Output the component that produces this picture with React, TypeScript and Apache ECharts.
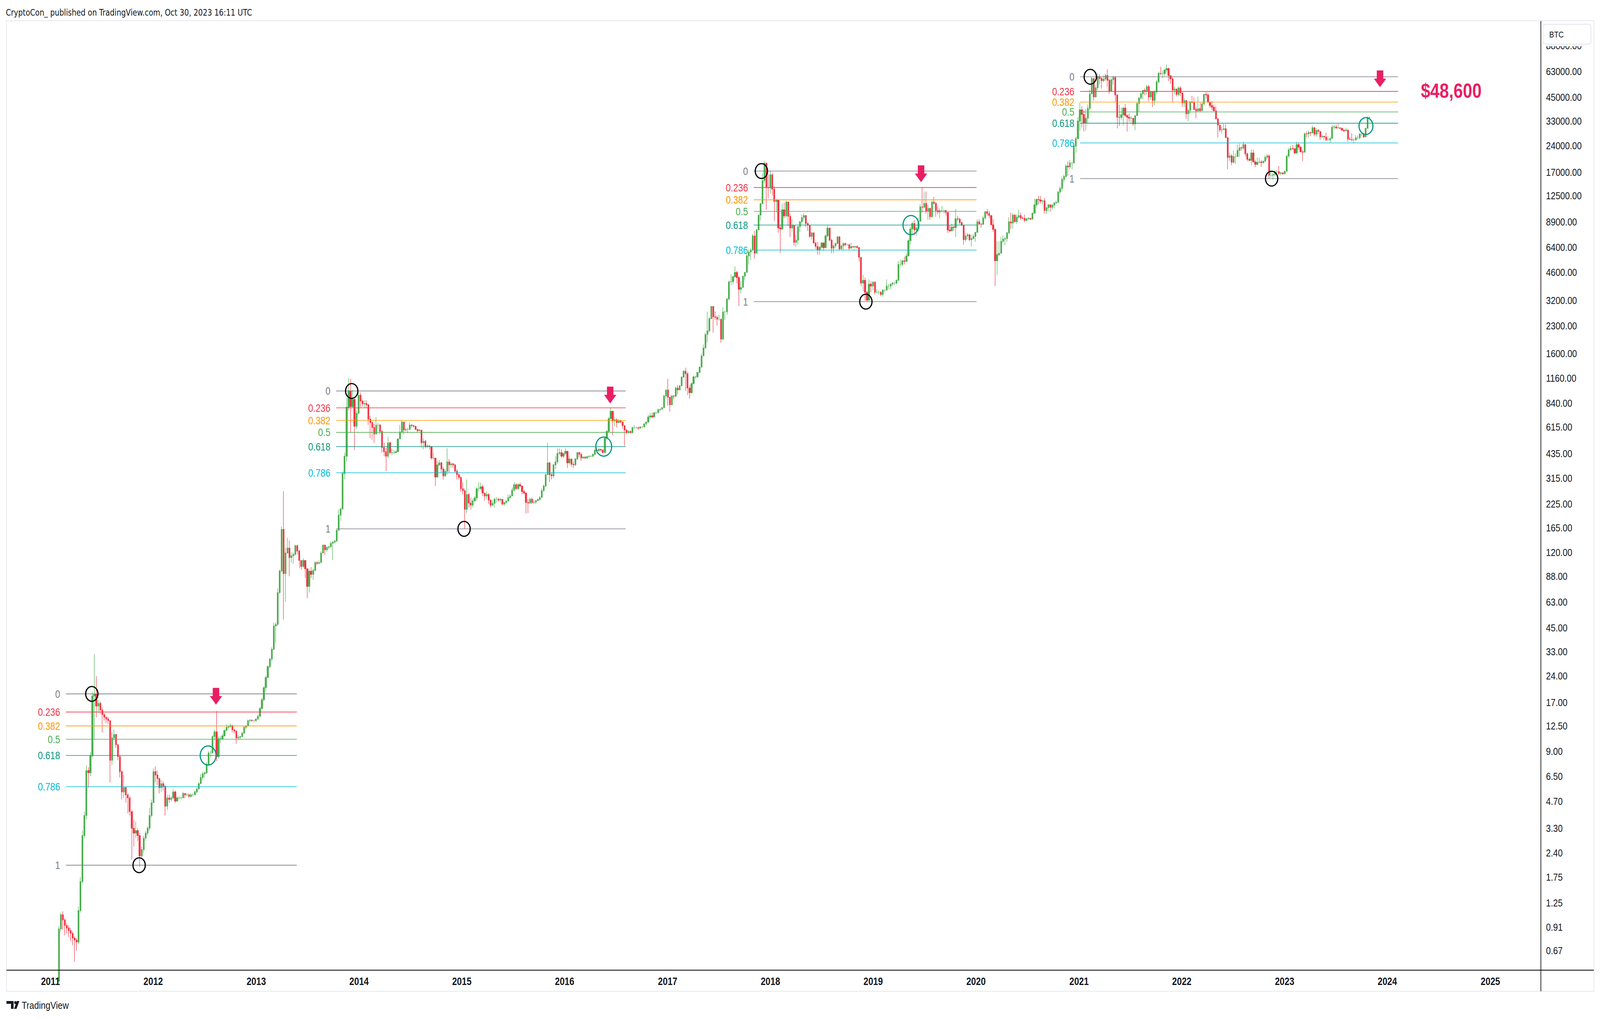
import React, { useEffect, useRef } from 'react';
import * as echarts from 'echarts';

// ---------- weekly candles: [close, high, low] (open = previous close) ----------
const weekStarts = ['2011-01-03', '2012-01-02', '2013-01-07', '2014-01-06', '2015-01-05', '2016-01-04', '2017-01-02', '2018-01-01', '2019-01-07', '2020-01-06', '2021-01-04', '2022-01-03', '2023-01-02'];
const firstOpen = 0.3;

const w2011 = [
  [0.32, 0.33, 0.29], [0.40, 0.42, 0.31], [0.42, 0.44, 0.38], [0.45, 0.47, 0.40], [0.89, 0.92, 0.44],
  [1.07, 1.10, 0.86], [1.00, 1.12, 0.88], [0.93, 1.02, 0.82], [0.90, 0.96, 0.84],
  [0.87, 0.93, 0.80], [0.84, 0.90, 0.76], [0.79, 0.86, 0.72], [0.77, 0.81, 0.58],
  [0.75, 0.79, 0.67], [1.13, 1.19, 0.73], [1.65, 1.75, 1.10], [3.0, 3.2, 1.6],
  [3.9, 4.1, 2.9], [7.0, 7.5, 3.7], [6.8, 7.3, 5.6], [8.5, 8.9, 6.5], [18.5, 19.5, 8.3],
  [19.0, 31.9, 10.5], [16.2, 23.9, 14.0], [16.8, 17.6, 14.8], [15.4, 17.2, 14.6],
  [14.5, 15.9, 11.5], [14.0, 14.7, 13.4], [13.7, 14.2, 13.0], [13.4, 14.1, 12.8],
  [8.0, 13.5, 6.0], [10.7, 11.5, 7.5], [11.2, 11.9, 10.4], [9.8, 11.3, 9.4], [8.4, 9.9, 8.0],
  [6.9, 8.6, 6.4], [5.3, 7.0, 4.8], [5.6, 6.6, 4.9], [5.1, 5.7, 4.6],
  [4.9, 5.2, 4.0], [4.1, 5.0, 3.9], [3.3, 4.2, 2.2], [3.1, 3.7, 2.6], [3.2, 3.6, 2.9],
  [3.0, 3.3, 2.8], [2.3, 3.1, 2.0], [2.5, 2.6, 2.2], [2.9, 3.0, 2.4],
  [3.1, 3.2, 2.8], [3.3, 3.4, 3.0], [3.9, 4.3, 3.2], [4.6, 4.8, 3.8],
];
const w2012 = [
  [6.9, 7.2, 4.9], [6.6, 7.4, 6.0], [6.3, 7.0, 5.8], [5.6, 6.4, 5.2], [5.9, 6.2, 5.3],
  [5.7, 6.1, 5.4], [4.4, 5.8, 3.9], [4.9, 5.1, 4.2], [4.8, 5.1, 4.6],
  [4.9, 5.0, 4.7], [5.3, 5.5, 4.8], [4.7, 5.4, 4.6], [4.9, 5.0, 4.7],
  [4.9, 5.0, 4.8], [4.9, 5.0, 4.8], [5.2, 5.3, 4.9], [5.1, 5.2, 4.9], [5.1, 5.2, 5.0],
  [5.0, 5.2, 4.9], [5.1, 5.2, 4.9], [5.1, 5.2, 5.0], [5.3, 5.4, 5.1],
  [5.5, 5.6, 5.2], [5.9, 6.0, 5.5], [6.4, 6.7, 5.9], [6.7, 6.9, 6.2],
  [6.8, 6.9, 6.4], [7.6, 7.8, 6.7], [8.8, 9.0, 7.5], [8.8, 9.1, 8.3], [10.9, 11.1, 8.8],
  [11.6, 11.9, 10.5], [8.4, 15.2, 7.9], [10.6, 10.9, 8.2], [10.6, 11.0, 10.0],
  [11.0, 11.3, 10.4], [11.8, 12.0, 10.9], [12.3, 12.8, 11.7], [12.4, 12.6, 12.0],
  [12.6, 12.9, 12.2], [11.9, 12.6, 11.5], [11.7, 12.0, 11.3], [10.7, 11.8, 9.9], [10.8, 11.1, 10.4],
  [10.9, 11.0, 10.5], [11.4, 11.6, 10.8], [12.3, 12.5, 11.3], [12.5, 12.6, 12.0],
  [13.4, 13.6, 12.4], [13.5, 13.7, 13.1], [13.4, 13.6, 13.2], [13.4, 13.6, 13.1], [13.7, 13.8, 13.2],
];
const w2013 = [
  [14.2, 14.5, 13.5], [15.7, 16.0, 14.1], [17.6, 18.0, 15.6], [20.6, 21.0, 17.3],
  [23.5, 24.0, 19.7], [27.1, 27.6, 23.5], [29.9, 30.4, 26.5], [34.0, 34.9, 29.0],
  [46, 48, 33.5], [47, 48.4, 37], [71, 75, 46], [94, 96, 70],
  [162, 168, 93], [91, 266, 50], [119, 127, 63], [127, 145, 118], [112, 140, 88],
  [115, 120, 105], [117, 120, 103], [131, 133, 115], [122, 133, 117],
  [108, 124, 98], [100, 108, 96], [108, 111, 98], [97, 107, 86],
  [77, 97, 66], [94, 97, 71], [90, 99, 86], [95, 97, 84], [105, 107, 94],
  [104, 107, 102], [105, 108, 103], [119, 122, 105], [132, 133, 119],
  [124, 133, 116], [128, 130, 121], [129, 131, 125], [135, 138, 128], [137, 139, 109],
  [139, 141, 135], [160, 162, 138], [195, 210, 160], [211, 215, 181],
  [335, 345, 211], [420, 440, 310], [795, 900, 390], [985, 1163, 760],
  [800, 1150, 576], [880, 1000, 790], [620, 890, 455], [735, 760, 600], [930, 960, 730],
];
const w2014 = [
  [860, 960, 790], [830, 880, 800], [835, 870, 790], [820, 870, 790],
  [680, 830, 630], [650, 710, 530], [610, 660, 520], [560, 640, 500],
  [630, 700, 560], [630, 650, 600], [580, 640, 560], [470, 590, 440], [445, 500, 420],
  [420, 470, 345], [500, 540, 410], [440, 510, 430], [440, 460, 425],
  [440, 455, 430], [445, 455, 435], [525, 530, 445], [575, 630, 560],
  [655, 670, 620], [590, 660, 560], [595, 610, 580], [595, 610, 565], [630, 650, 600],
  [625, 635, 610], [620, 630, 610], [595, 625, 590], [585, 600, 575],
  [590, 600, 580], [500, 590, 470], [510, 530, 460], [475, 520, 465],
  [480, 490, 470], [475, 485, 460], [410, 480, 400], [410, 440, 400], [320, 410, 285],
  [375, 395, 318], [385, 400, 370], [355, 390, 340], [325, 365, 310],
  [345, 355, 320], [390, 465, 330], [375, 405, 340], [380, 390, 360],
  [375, 385, 360], [345, 380, 340], [330, 355, 310], [318, 335, 310], [275, 325, 265],
];
const w2015 = [
  [268, 300, 255], [210, 275, 163], [255, 310, 200], [228, 260, 215],
  [222, 245, 210], [235, 242, 215], [244, 250, 230], [275, 280, 235],
  [275, 300, 265], [282, 298, 270], [260, 290, 250], [250, 260, 235], [255, 265, 240],
  [237, 260, 225], [222, 240, 215], [227, 238, 218], [240, 245, 215],
  [240, 247, 230], [237, 245, 232], [240, 243, 230], [225, 240, 222],
  [230, 232, 220], [234, 238, 225], [245, 255, 235], [250, 256, 240], [270, 280, 250],
  [290, 300, 265], [275, 295, 270], [290, 295, 270], [285, 298, 280],
  [265, 285, 255], [260, 270, 255], [230, 262, 199], [228, 240, 200], [240, 245, 225],
  [230, 245, 225], [231, 238, 225], [235, 238, 225], [239, 242, 234],
  [245, 250, 235], [268, 275, 245], [285, 290, 265], [330, 335, 280],
  [385, 500, 330], [330, 390, 300], [325, 340, 310], [375, 380, 315], [390, 420, 355],
  [435, 465, 380], [440, 465, 425], [420, 460, 410], [435, 440, 410],
];
const w2016 = [
  [448, 465, 425], [385, 450, 360], [405, 420, 375], [378, 400, 365],
  [375, 390, 360], [405, 410, 370], [440, 445, 400], [430, 445, 415], [410, 440, 395],
  [415, 420, 405], [410, 420, 405], [418, 422, 405], [420, 425, 410],
  [420, 425, 415], [430, 435, 415], [455, 460, 425], [450, 470, 440],
  [460, 465, 445], [455, 460, 445], [440, 460, 435], [530, 535, 440], [580, 590, 520],
  [685, 700, 575], [755, 790, 680], [665, 730, 550], [675, 700, 620],
  [650, 690, 610], [665, 680, 645], [655, 675, 645], [625, 660, 600],
  [590, 630, 480], [570, 600, 560], [580, 590, 565], [570, 585, 565], [610, 615, 565],
  [610, 630, 600], [610, 615, 600], [605, 610, 590], [615, 620, 600],
  [615, 620, 605], [640, 645, 610], [655, 660, 625], [700, 720, 650], [710, 740, 680],
  [700, 740, 690], [740, 750, 695], [740, 750, 725], [770, 780, 735],
  [775, 780, 755], [790, 800, 770], [920, 935, 790], [995, 1000, 890],
];
const w2017 = [
  [905, 1150, 810], [820, 910, 750], [920, 930, 820], [915, 930, 880], [1020, 1040, 910],
  [995, 1060, 940], [1050, 1065, 995], [1175, 1190, 1045], [1270, 1290, 1170],
  [1230, 1330, 980], [1020, 1260, 930], [960, 1060, 890], [1080, 1100, 950],
  [1180, 1200, 1070], [1180, 1200, 1150], [1250, 1260, 1170], [1340, 1350, 1240],
  [1550, 1600, 1330], [1720, 1800, 1560], [2050, 2100, 1700], [2150, 2760, 1850], [2520, 2580, 2100],
  [2950, 2980, 2500], [2580, 2980, 2100], [2560, 2770, 2480], [2500, 2630, 2300],
  [2500, 2650, 2450], [1930, 2530, 1840], [2750, 2920, 1900], [2750, 2800, 2480], [3250, 3300, 2650],
  [4070, 4150, 3200], [4080, 4480, 3900], [4350, 4400, 3950], [4600, 4980, 4300],
  [4300, 4700, 4000], [3690, 4400, 2970], [3780, 4100, 3500], [4380, 4400, 3800],
  [4600, 4620, 4150], [5700, 5850, 4600], [6000, 6200, 5100], [6150, 6300, 5400], [7400, 7600, 6100],
  [5900, 7900, 5500], [8000, 8100, 5900], [9700, 9750, 8000], [11250, 11400, 9000],
  [15200, 16700, 11200], [19100, 19666, 14800], [13900, 19200, 10400], [13850, 16500, 12100],
];
const w2018 = [
  [16400, 17250, 12800], [13600, 16800, 12500], [11600, 14100, 9000], [11800, 12000, 10000], [8200, 11700, 7700],
  [8100, 8600, 5940], [10400, 11200, 8000], [9600, 11400, 9300], [11500, 11700, 9400],
  [9550, 11600, 8400], [8200, 9900, 7300], [8500, 9200, 7800], [6800, 8500, 6500],
  [7000, 7500, 6400], [8350, 8450, 6600], [8900, 9000, 7800], [9400, 9750, 8600], [9650, 9950, 9000],
  [8700, 9700, 8300], [8500, 8900, 7900], [7350, 8500, 7200], [7700, 7800, 7050],
  [6750, 7750, 6700], [6450, 6800, 6250], [6150, 6850, 5800], [6380, 6520, 5780],
  [6750, 6850, 6300], [6350, 6800, 6100], [7400, 7550, 6300], [8200, 8500, 7300], [7000, 8200, 6900],
  [6300, 7150, 5900], [6500, 6600, 5900], [6700, 6800, 6300], [7300, 7400, 6700],
  [6250, 7400, 6100], [6500, 6600, 6200], [6700, 6800, 6100], [6600, 6800, 6450],
  [6600, 6700, 6500], [6300, 6700, 6150], [6450, 6750, 6300], [6400, 6450, 6350], [6450, 6500, 6250],
  [6350, 6550, 6300], [5600, 6400, 5300], [4000, 5600, 3850], [4150, 4450, 3600],
  [3550, 4300, 3200], [3200, 3600, 3122], [3950, 4200, 3200], [3850, 4100, 3550], [4050, 4100, 3650],
];
const w2019 = [
  [3550, 4100, 3450], [3550, 3700, 3500], [3550, 3650, 3450], [3450, 3600, 3380],
  [3650, 3700, 3350], [3650, 3700, 3550], [3850, 4200, 3650], [3850, 3950, 3700],
  [3950, 3970, 3700], [4000, 4050, 3850], [4000, 4100, 3900], [4150, 4200, 3950],
  [5100, 5350, 4100], [5100, 5450, 4950], [5350, 5450, 5000], [5300, 5650, 5100], [5700, 5900, 5350],
  [6950, 7100, 5700], [8100, 8350, 6600], [8700, 8900, 7500], [8000, 9100, 7450],
  [8200, 8300, 7400], [8950, 9400, 7800], [10800, 11200, 8900], [10750, 13880, 10000],
  [11300, 13100, 10600], [10200, 13200, 9900], [10600, 11100, 9100], [9500, 10650, 9150], [11500, 11700, 9400],
  [11300, 12300, 11100], [10300, 11500, 9500], [10100, 10900, 9800], [10300, 10600, 9300],
  [10300, 10950, 10100], [10300, 10400, 9900], [10050, 10400, 9650], [7990, 10000, 7700], [7900, 8500, 7750],
  [8300, 8700, 7950], [8250, 8400, 7900], [9250, 10500, 7300], [9200, 9600, 8950],
  [8800, 9400, 8600], [8500, 8900, 8400], [7050, 8550, 6600], [7400, 7700, 6850],
  [7500, 7700, 7100], [7050, 7600, 6900], [7150, 7500, 6450], [7350, 7600, 7050], [7750, 7800, 6850],
];
const w2020 = [
  [8900, 9200, 7700], [8650, 9200, 8500], [8600, 8700, 8250], [9350, 9600, 8550],
  [10150, 10200, 9150], [9900, 10500, 9600], [9650, 10250, 9300], [8550, 9700, 8500],
  [8050, 9200, 7800], [5350, 8150, 3850], [5800, 6900, 4450], [5900, 6900, 5700], [6900, 7300, 6150],
  [7100, 7450, 6750], [7150, 7300, 6550], [7700, 7800, 6850], [8900, 9450, 7600],
  [8750, 10000, 8100], [9700, 9950, 8150], [8900, 9850, 8800], [9450, 9750, 8650],
  [9650, 10400, 9300], [9350, 10000, 9100], [9300, 9550, 9200], [9050, 9750, 8850], [9250, 9350, 8900],
  [9300, 9450, 9100], [9200, 9350, 9100], [9950, 10050, 9200], [11100, 12000, 9900],
  [11900, 12000, 10700], [11850, 12450, 11150], [11650, 12450, 11300], [11700, 11800, 11150], [10300, 12100, 9900],
  [10700, 10800, 9850], [11100, 11200, 10200], [10750, 10950, 10150], [11050, 11200, 10400],
  [11350, 11500, 10550], [11450, 11750, 11200], [13100, 13350, 11400], [13750, 14100, 12800],
  [15450, 15950, 13250], [16050, 16450, 14850], [18400, 18800, 15800], [18150, 19500, 16200], [19150, 19900, 17600],
  [19150, 19400, 17600], [23800, 24300, 19000], [26250, 26900, 21900], [33000, 34800, 26100],
];
const w2021 = [
  [38200, 41950, 29000], [36000, 40100, 30400], [32250, 37850, 28800], [34250, 38650, 29200],
  [39000, 40950, 32300], [47100, 49700, 37900], [57500, 58350, 46900], [45200, 57500, 43000],
  [50950, 52650, 44950], [59000, 61800, 49300], [57500, 60600, 53300], [55800, 58400, 50400], [57100, 60200, 54900],
  [59800, 61200, 55500], [56200, 64850, 51500], [49000, 57400, 47000], [56600, 58000, 48800],
  [58200, 59600, 53100], [46400, 59500, 42200], [34700, 46700, 30000], [34600, 40800, 31000], [35800, 39500, 33400],
  [39100, 39700, 31100], [35500, 41300, 34800], [34700, 36000, 28800], [34200, 36500, 32700],
  [34250, 35100, 32100], [31800, 34100, 31000], [35400, 35700, 29300], [41500, 42300, 35300],
  [44600, 45300, 37300], [47100, 48100, 43800], [49300, 49600, 43900], [48800, 50500, 46300], [51750, 52900, 46500],
  [45150, 52900, 42800], [48300, 48900, 43400], [43200, 45100, 39600], [48200, 49200, 40700],
  [55000, 56600, 46800], [61550, 62900, 54000], [61300, 67000, 59900], [61300, 63600, 57800],
  [64300, 64400, 59400], [65500, 69000, 62300], [59700, 66300, 55600], [57300, 59300, 53500], [49400, 59100, 42000],
  [50100, 51900, 46800], [46700, 49500, 45500], [50800, 51900, 45600], [47700, 52100, 45700],
];
const w2022 = [
  [41800, 47500, 39700], [43100, 44400, 39600], [36300, 43500, 34000], [37900, 38900, 32900], [42400, 43000, 36300],
  [42100, 45900, 41700], [38400, 44700, 38000], [37700, 39600, 34300], [38800, 45400, 37200],
  [37800, 42000, 37100], [41300, 42300, 37600], [46800, 47000, 40500], [46400, 48200, 44400],
  [42200, 47200, 41900], [40400, 42400, 39200], [39500, 42900, 38200], [37700, 40800, 37600],
  [34000, 40000, 33700], [31300, 34200, 26700], [29400, 31400, 28600], [29500, 30700, 28000], [29900, 31900, 29300],
  [26600, 31600, 26500], [20550, 26900, 17600], [21000, 21900, 19600], [19300, 21500, 18600],
  [20800, 22500, 19000], [20800, 21600, 18900], [22550, 24300, 20800], [23300, 24600, 20700],
  [23200, 23700, 22400], [24300, 25200, 22700], [21550, 24400, 20800], [20050, 21900, 19550], [19800, 20500, 19600],
  [21800, 22800, 18600], [19400, 22700, 19300], [18800, 19900, 18100], [19300, 20500, 18500],
  [19400, 20500, 19100], [19200, 19900, 18200], [19600, 19700, 18900], [20600, 21100, 19300], [21000, 21500, 20000],
  [16300, 21400, 15600], [16300, 17200, 15800], [16450, 16800, 15480], [17100, 17400, 16000],
  [17100, 17400, 16700], [16700, 18400, 16300], [16840, 17000, 16300], [16600, 16900, 16350],
];
const w2023 = [
  [17150, 17400, 16500], [20900, 21300, 17100], [22700, 23300, 20400], [23100, 23950, 22300], [23000, 24250, 22700],
  [21800, 23200, 21400], [24300, 25250, 21500], [23500, 25000, 22800], [22150, 23900, 21900],
  [22000, 22700, 19600], [28000, 28400, 21900], [27950, 28900, 26700], [28450, 29200, 26600],
  [28300, 28800, 27200], [30300, 31000, 28100], [27800, 30500, 27100], [29250, 30000, 26950],
  [28850, 29800, 27700], [26900, 28900, 25800], [27100, 27600, 26550], [26850, 27200, 25900], [25850, 28400, 25400],
  [25850, 27100, 25350], [26300, 26900, 24800], [30500, 31400, 26250], [30600, 31250, 29550],
  [30250, 31500, 29700], [30250, 31800, 29950], [30100, 30300, 29600], [29300, 30000, 29150], [29050, 29750, 28650],
  [29400, 30250, 29000], [26100, 29450, 25200], [26000, 26800, 25800], [25850, 28100, 25400],
  [25850, 26400, 24900], [26550, 27450, 25600], [26550, 27400, 26050], [27950, 28050, 26050],
  [27950, 28600, 27200], [26850, 28000, 26550], [30000, 30300, 26900], [34500, 35200, 29900], [34600, 34900, 34050],
];
const weeklyByYear = [w2011, w2012, w2013, w2014, w2015, w2016, w2017, w2018, w2019, w2020, w2021, w2022, w2023];

// ---------- axes ----------
const priceTicks = [88000, 63000, 45000, 33000, 24000, 17000, 12500, 8900, 6400, 4600, 3200, 2300, 1600, 1160, 840, 615, 435, 315, 225, 165, 120, 88, 63, 45, 33, 24, 17, 12.5, 9, 6.5, 4.7, 3.3, 2.4, 1.75, 1.25, 0.91, 0.67];
const yearTicks = [2011, 2012, 2013, 2014, 2015, 2016, 2017, 2018, 2019, 2020, 2021, 2022, 2023, 2024, 2025];
const timeMin = '2010-07-30';
const timeMax = '2025-06-28';
const priceMin = 0.52;
const priceMax = 121400;

// ---------- fibonacci retracements ----------
const fibRatios = [0, 0.236, 0.382, 0.5, 0.618, 0.786, 1];
const fibLabels = ['0', '0.236', '0.382', '0.5', '0.618', '0.786', '1'];
const fibColors = ['#787b86', '#f23645', '#ff9800', '#4caf50', '#089981', '#00bcd4', '#787b86'];
const fibStart = ['2011-02-25', '2013-10-12', '2017-11-03', '2021-01-05'];
const fibEnd = ['2013-05-25', '2016-08-05', '2020-01-03', '2024-02-08'];
const fibHigh = [19.0, 982, 17220, 58800];
const fibLow = [2.04, 163, 3143, 15600];

// ---------- annotations ----------
const pivotDates = ['2011-05-28', '2011-11-12', '2013-12-06', '2015-01-09', '2017-11-30', '2018-12-06', '2021-02-10', '2022-11-16'];
const pivotPrices = [19.0, 2.04, 982, 163, 17220, 3143, 58800, 15600];
const retestDates = ['2012-07-14', '2016-05-19', '2019-05-15', '2023-10-17'];
const retestPrices = [8.52, 476, 8520, 30970];
const arrowDates = ['2012-08-11', '2016-06-11', '2019-06-20', '2023-12-06'];
const arrowPrices = [16.5, 835, 14900, 51300];
const targetDate = '2024-04-29';
const targetPrice = 48600;
const targetText = '$48,600';

const headerText = 'CryptoCon_ published on TradingView.com, Oct 30, 2023 16:11 UTC';

const ts = (s: string) => Date.parse(s + 'T00:00:00Z');
const DAY = 86400000;

const UP = '#4caf50';
const DOWN = '#f23645';
const PINK = '#e91e63';
const TEAL = '#089981';
const INK = '#131722';
const SANS = '"Liberation Sans", Arial, sans-serif';

// reference layout size (pixel constants below are in this space, then mapped to the page)
const REF_W = 4950;
const REF_H = 2608;

function buildCandles() {
  const out: number[][] = [];
  let prev = firstOpen;
  weekStarts.forEach((start, yi) => {
    const t0 = ts(start);
    weeklyByYear[yi].forEach((row, i) => {
      const [c, h, l] = row;
      const o = prev;
      out.push([t0 + i * 7 * DAY, o, c, Math.min(l, o, c), Math.max(h, o, c)]);
      prev = c;
    });
  });
  return out;
}

function buildFibRows() {
  const rows: number[][] = [];
  fibHigh.forEach((hi, s) => {
    fibRatios.forEach((r, k) => {
      rows.push([ts(fibStart[s]), ts(fibEnd[s]), hi - r * (hi - fibLow[s]), k]);
    });
  });
  return rows;
}

function textStyle(text: string, fill: string, font: string, align: string, vAlign: string) {
  return { text, fill, font, align, verticalAlign: vAlign, textAlign: align, textVerticalAlign: vAlign };
}

export default function App() {
  const ref = useRef<HTMLDivElement>(null);
  useEffect(() => {
    if (!ref.current) return;
    const el = ref.current;
    const cw = el.clientWidth || REF_W;
    const ch = el.clientHeight || REF_H;
    const sx = cw / REF_W;
    const sy = ch / REF_H;
    const ar = sy / sx; // vertical stretch applied to glyphs so they keep the reference proportions
    const sm = (sx + sy) / 2;
    const X = (v: number) => v * sx;
    const Y = (v: number) => v * sy;
    const F = (v: number) => `${(v * sx).toFixed(2)}px`;

    const chart = echarts.init(el, null, { renderer: 'svg' });
    const candles = buildCandles();
    const fibRows = buildFibRows();
    const xMinTs = ts(timeMin);

    const txt = (x: number, y: number, style: any, z?: number) => ({ type: 'text', x, y, scaleY: ar, z, style });

    const option: any = {
      animation: false,
      backgroundColor: '#ffffff',
      grid: { left: X(21), right: cw - X(4766), top: Y(54), bottom: ch - Y(2483), containLabel: false },
      xAxis: {
        type: 'time', min: ts(timeMin), max: ts(timeMax),
        axisLine: { show: false }, axisTick: { show: false }, axisLabel: { show: false }, splitLine: { show: false },
      },
      yAxis: {
        type: 'log', logBase: 10, min: priceMin, max: priceMax, position: 'right',
        axisLine: { show: false }, axisTick: { show: false }, axisLabel: { show: false }, splitLine: { show: false },
      },
      series: [
        {
          type: 'candlestick',
          data: candles,
          encode: { x: 0, y: [1, 2, 3, 4] },
          barWidth: 4.5 * sx,
          large: false,
          progressive: 0,
          clip: true,
          silent: true,
          z: 2,
          itemStyle: { color: UP, color0: DOWN, borderColor: UP, borderColor0: DOWN, borderWidth: 1.45 * sx },
        },
        {
          type: 'custom', silent: true, clip: false, z: 3,
          encode: { x: [0, 1], y: 2 },
          data: fibRows,
          renderItem: (params: any, api: any) => {
            const p0 = api.coord([api.value(0), api.value(2)]);
            const p1 = api.coord([api.value(1), api.value(2)]);
            const k = api.value(3);
            return {
              type: 'group',
              children: [
                { type: 'line', shape: { x1: p0[0], y1: p0[1], x2: p1[0], y2: p1[1] }, style: { stroke: fibColors[k], lineWidth: 1.6 * sy } },
                txt(p0[0] - 18 * sx, p0[1], textStyle(fibLabels[k], fibColors[k], `${F(27.5)} ${SANS}`, 'right', 'middle')),
              ],
            };
          },
        },
        {
          type: 'custom', silent: true, clip: false, z: 4,
          data: pivotDates.map((d, i) => [ts(d), pivotPrices[i]]),
          renderItem: (params: any, api: any) => {
            const p = api.coord([api.value(0), api.value(1)]);
            return { type: 'ellipse', shape: { cx: p[0], cy: p[1], rx: 19 * sx, ry: 19 * sy }, style: { fill: 'none', stroke: '#000000', lineWidth: 3.3 * sm } };
          },
        },
        {
          type: 'custom', silent: true, clip: false, z: 4,
          data: retestDates.map((d, i) => [ts(d), retestPrices[i]]),
          renderItem: (params: any, api: any) => {
            const p = api.coord([api.value(0), api.value(1)]);
            const r = params.dataIndex === 3 ? 21.5 : 24.5;
            return { type: 'ellipse', shape: { cx: p[0], cy: p[1], rx: r * sx, ry: r * sy }, style: { fill: 'none', stroke: TEAL, lineWidth: 3.3 * sm } };
          },
        },
        {
          type: 'custom', silent: true, clip: false, z: 4,
          data: arrowDates.map((d, i) => [ts(d), arrowPrices[i]]),
          renderItem: (params: any, api: any) => {
            const p = api.coord([api.value(0), api.value(1)]);
            const x = p[0];
            const y = p[1];
            const a = (dx: number, dy: number) => [x + dx * sx, y + dy * sy];
            return {
              type: 'polygon',
              shape: { points: [a(-10, -43), a(10, -43), a(10, -22), a(19, -22), a(0, 0), a(-19, -22), a(-10, -22)] },
              style: { fill: PINK },
            };
          },
        },
        {
          type: 'custom', silent: true, clip: false, z: 5,
          data: [[ts(targetDate), targetPrice]],
          renderItem: (params: any, api: any) => {
            const p = api.coord([api.value(0), api.value(1)]);
            return txt(p[0], p[1] - 2 * sy, textStyle(targetText, PINK, `bold ${F(52)} ${SANS}`, 'left', 'middle'));
          },
        },
        {
          type: 'custom', silent: true, clip: false, z: 5,
          data: priceTicks.map((v) => [xMinTs, v]),
          renderItem: (params: any, api: any) => {
            const p = api.coord([api.value(0), api.value(1)]);
            const cs = params.coordSys;
            const v = priceTicks[params.dataIndex];
            return txt(cs.x + cs.width + 17 * sx, p[1], textStyle(v.toFixed(2), INK, `${F(26.5)} ${SANS}`, 'left', 'middle'));
          },
        },
        {
          type: 'custom', silent: true, clip: false, z: 5,
          data: yearTicks.map((y) => [ts(`${y}-01-01`), 1]),
          renderItem: (params: any, api: any) => {
            const p = api.coord([api.value(0), api.value(1)]);
            const cs = params.coordSys;
            return txt(p[0], cs.y + cs.height + 29 * sy, textStyle(String(yearTicks[params.dataIndex]), INK, `bold ${F(27)} ${SANS}`, 'center', 'middle'));
          },
        },
      ],
      graphic: {
        elements: [
          txt(X(18), Y(32), textStyle(headerText, INK, `${F(22.5)} "DejaVu Sans", ${SANS}`, 'left', 'middle'), 50),
          { type: 'rect', z: 40, shape: { x: X(20), y: Y(53), width: X(4911), height: Y(2484) }, style: { fill: 'none', stroke: '#e6e8ee', lineWidth: 2 * sm } },
          { type: 'rect', z: 60, shape: { x: X(20), y: Y(2482), width: X(4911), height: 2 * sy }, style: { fill: '#000000' } },
          { type: 'rect', z: 60, shape: { x: X(4766), y: Y(54), width: 2 * sx, height: Y(2483) }, style: { fill: '#000000' } },
          { type: 'rect', z: 69, shape: { x: X(4769), y: Y(55), width: X(159), height: Y(63) }, style: { fill: '#ffffff' } },
          { type: 'rect', z: 70, shape: { x: X(4773), y: Y(62), width: X(149), height: Y(51), r: 8 * sm }, style: { fill: '#ffffff', stroke: '#e0e3eb', lineWidth: 2 * sm } },
          txt(X(4793), Y(88), textStyle('BTC', INK, `${F(22.5)} ${SANS}`, 'left', 'middle'), 71),
          { type: 'polygon', z: 50, shape: { points: [[X(20), Y(2562)], [X(42), Y(2562)], [X(42), Y(2582)], [X(34), Y(2582)], [X(34), Y(2569)], [X(20), Y(2569)]] }, style: { fill: INK } },
          { type: 'ellipse', z: 50, shape: { cx: X(47.5), cy: Y(2566), rx: 3.8 * sx, ry: 3.8 * sy }, style: { fill: INK } },
          { type: 'polygon', z: 50, shape: { points: [[X(52), Y(2562)], [X(60), Y(2562)], [X(51), Y(2582)], [X(43.5), Y(2582)]] }, style: { fill: INK } },
          txt(X(67), Y(2573), textStyle('TradingView', INK, `${F(26.5)} ${SANS}`, 'left', 'middle'), 50),
        ],
      },
    };
    chart.setOption(option);
    return () => chart.dispose();
  }, []);
  return <div ref={ref} style={{ position: 'fixed', left: 0, top: 0, width: '100vw', height: '100vh', background: '#ffffff' }} />;
}
